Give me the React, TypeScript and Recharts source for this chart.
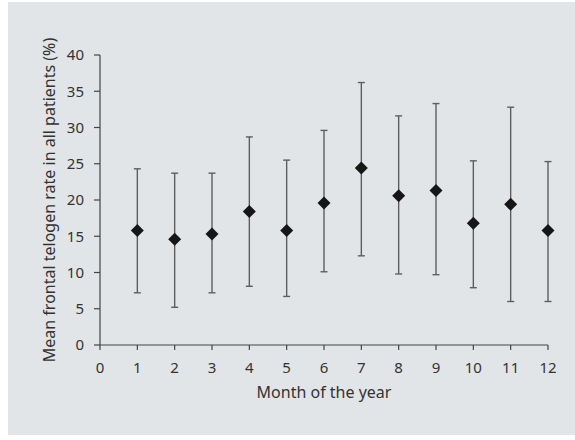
import React from 'react';
import { ScatterChart, Scatter, XAxis, YAxis, ErrorBar } from 'recharts';

// values
const months = [1, 2, 3, 4, 5, 6, 7, 8, 9, 10, 11, 12];
const means = [15.8, 14.6, 15.3, 18.4, 15.8, 19.6, 24.4, 20.6, 21.3, 16.8, 19.4, 15.8];
const upper = [24.3, 23.7, 23.7, 28.7, 25.5, 29.6, 36.2, 31.6, 33.3, 25.4, 32.8, 25.3];
const lower = [7.2, 5.2, 7.2, 8.1, 6.7, 10.1, 12.3, 9.8, 9.7, 7.9, 6.0, 6.0];

const xTicks = [0, 1, 2, 3, 4, 5, 6, 7, 8, 9, 10, 11, 12];
const yTicks = [0, 5, 10, 15, 20, 25, 30, 35, 40];

const data = months.map((m, i) => ({
  month: m,
  mean: means[i],
  err: [means[i] - lower[i], upper[i] - means[i]],
}));

const FONT = '"Noto Sans", "Open Sans", sans-serif';
const TEXT = '#333';
const AXIS = '#444';

const Diamond = (props: any) => {
  const { cx, cy } = props;
  const r = 6.5;
  return (
    <path
      d={`M${cx},${cy - r}L${cx + r},${cy}L${cx},${cy + r}L${cx - r},${cy}Z`}
      fill="#161616"
    />
  );
};

export default function App() {
  return (
    <div style={{ position: 'absolute', left: 0, top: 0, width: 575, height: 440, background: '#fff' }}>
      <div style={{ position: 'absolute', left: 8, top: 2, width: 567, height: 433, background: '#e2e5e7' }}>
        <ScatterChart width={567} height={433} margin={{ top: 53, right: 27, bottom: 60, left: 0 }}>
          <XAxis
            type="number"
            dataKey="month"
            domain={[0, 12]}
            ticks={xTicks}
            interval={0}
            stroke={AXIS}
            strokeWidth={1.2}
            tickSize={5}
            tickMargin={12}
            tick={{ fill: TEXT, fontSize: 15, fontFamily: FONT }}
            label={{
              value: 'Month of the year',
              position: 'bottom',
              offset: 12,
              style: { fill: TEXT, fontSize: 16, fontFamily: FONT },
            }}
          />
          <YAxis
            type="number"
            dataKey="mean"
            domain={[0, 40]}
            ticks={yTicks}
            interval={0}
            width={92}
            stroke={AXIS}
            strokeWidth={1.2}
            tickSize={6}
            tickMargin={10}
            tick={{ fill: TEXT, fontSize: 15, fontFamily: FONT }}
            label={{
              value: 'Mean frontal telogen rate in all patients (%)',
              angle: -90,
              position: 'insideLeft',
              offset: 41,
              style: { textAnchor: 'middle', fill: TEXT, fontSize: 16, fontFamily: FONT },
            }}
          />
          <Scatter data={data} shape={<Diamond />} isAnimationActive={false}>
            <ErrorBar
              dataKey="err"
              direction="y"
              width={3.5}
              stroke="#5e5e5e"
              strokeWidth={1.4}
              isAnimationActive={false}
            />
          </Scatter>
        </ScatterChart>
      </div>
    </div>
  );
}
